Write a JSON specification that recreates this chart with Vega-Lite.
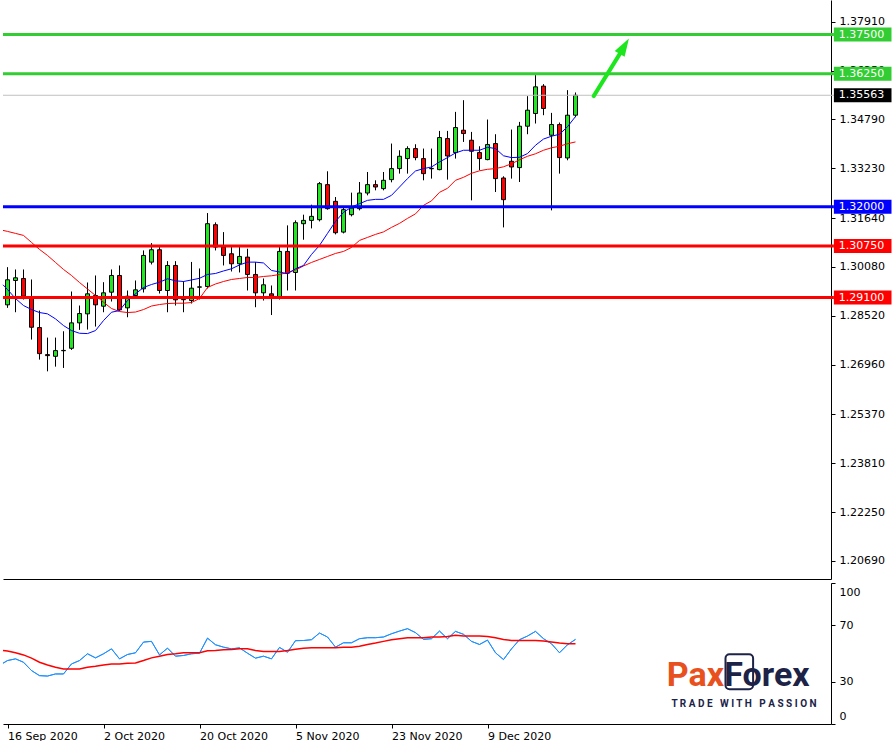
{
  "$schema": "https://vega.github.io/schema/vega-lite/v6.json",
  "background": "white",
  "padding": {"left": 0, "top": 0, "right": 0, "bottom": 0},
  "spacing": 3,
  "config": {
    "view": {"stroke": null},
    "scale": {"continuousPadding": 0},
    "axis": {"grid": false, "labelFont": "DejaVu Sans", "labelFontSize": 11, "labelColor": "#000", "domainColor": "#000", "tickColor": "#000", "domainWidth": 1, "tickWidth": 1, "title": null},
    "text": {"font": "DejaVu Sans"}
  },
  "datasets": {
    "candles": [
      {"i":0,"date":"2020-09-16","open":1.28868,"high":1.30072,"low":1.28772,"close":1.29668},
      {"i":1,"date":"2020-09-17","open":1.29646,"high":1.29998,"low":1.28632,"close":1.29732},
      {"i":2,"date":"2020-09-18","open":1.2971,"high":1.29998,"low":1.29038,"close":1.29144},
      {"i":3,"date":"2020-09-21","open":1.29112,"high":1.29678,"low":1.27758,"close":1.28152},
      {"i":4,"date":"2020-09-22","open":1.28142,"high":1.28686,"low":1.27118,"close":1.2731},
      {"i":5,"date":"2020-09-23","open":1.27278,"high":1.27822,"low":1.26744,"close":1.27246},
      {"i":6,"date":"2020-09-24","open":1.27224,"high":1.27822,"low":1.26894,"close":1.27406},
      {"i":7,"date":"2020-09-25","open":1.27402,"high":1.28024,"low":1.26852,"close":1.27412},
      {"i":8,"date":"2020-09-28","open":1.2748,"high":1.29294,"low":1.27428,"close":1.28292},
      {"i":9,"date":"2020-09-29","open":1.28292,"high":1.28846,"low":1.28068,"close":1.2859},
      {"i":10,"date":"2020-09-30","open":1.2858,"high":1.29582,"low":1.28078,"close":1.2922},
      {"i":11,"date":"2020-10-01","open":1.29166,"high":1.29806,"low":1.28174,"close":1.28868},
      {"i":12,"date":"2020-10-02","open":1.28824,"high":1.29592,"low":1.28632,"close":1.29252},
      {"i":13,"date":"2020-10-05","open":1.29272,"high":1.29998,"low":1.28974,"close":1.29806},
      {"i":14,"date":"2020-10-06","open":1.29806,"high":1.30126,"low":1.28664,"close":1.28708},
      {"i":15,"date":"2020-10-07","open":1.28772,"high":1.29326,"low":1.28472,"close":1.29144},
      {"i":16,"date":"2020-10-08","open":1.29166,"high":1.29646,"low":1.29102,"close":1.29348},
      {"i":17,"date":"2020-10-09","open":1.2938,"high":1.30606,"low":1.29262,"close":1.30446},
      {"i":18,"date":"2020-10-12","open":1.30232,"high":1.3084,"low":1.30158,"close":1.30628},
      {"i":19,"date":"2020-10-13","open":1.30628,"high":1.30712,"low":1.2923,"close":1.29326},
      {"i":20,"date":"2020-10-14","open":1.29326,"high":1.30264,"low":1.28632,"close":1.30126},
      {"i":21,"date":"2020-10-15","open":1.30126,"high":1.30264,"low":1.28846,"close":1.29028},
      {"i":22,"date":"2020-10-16","open":1.29042,"high":1.29624,"low":1.28632,"close":1.29032},
      {"i":23,"date":"2020-10-19","open":1.29006,"high":1.30238,"low":1.2891,"close":1.294},
      {"i":24,"date":"2020-10-20","open":1.29432,"high":1.3003,"low":1.29038,"close":1.29442},
      {"i":25,"date":"2020-10-21","open":1.29454,"high":1.318,"low":1.2939,"close":1.3146},
      {"i":26,"date":"2020-10-22","open":1.31428,"high":1.31502,"low":1.30606,"close":1.30712},
      {"i":27,"date":"2020-10-23","open":1.30712,"high":1.31192,"low":1.30126,"close":1.30446},
      {"i":28,"date":"2020-10-26","open":1.305,"high":1.30712,"low":1.29934,"close":1.3018},
      {"i":29,"date":"2020-10-27","open":1.3018,"high":1.30712,"low":1.29902,"close":1.30414},
      {"i":30,"date":"2020-10-28","open":1.30392,"high":1.3066,"low":1.29326,"close":1.29838},
      {"i":31,"date":"2020-10-29","open":1.29838,"high":1.30232,"low":1.28792,"close":1.29252},
      {"i":32,"date":"2020-10-30","open":1.29252,"high":1.2971,"low":1.29006,"close":1.29508},
      {"i":33,"date":"2020-11-02","open":1.2922,"high":1.29486,"low":1.28542,"close":1.29144},
      {"i":34,"date":"2020-11-03","open":1.29112,"high":1.30712,"low":1.29038,"close":1.30574},
      {"i":35,"date":"2020-11-04","open":1.30574,"high":1.31406,"low":1.29326,"close":1.2988},
      {"i":36,"date":"2020-11-05","open":1.29902,"high":1.31566,"low":1.29326,"close":1.31492},
      {"i":37,"date":"2020-11-06","open":1.3146,"high":1.31748,"low":1.30948,"close":1.31566},
      {"i":38,"date":"2020-11-09","open":1.31566,"high":1.32068,"low":1.3131,"close":1.31694},
      {"i":39,"date":"2020-11-10","open":1.31588,"high":1.32792,"low":1.31534,"close":1.3274},
      {"i":40,"date":"2020-11-11","open":1.32708,"high":1.33134,"low":1.31908,"close":1.3194},
      {"i":41,"date":"2020-11-12","open":1.32174,"high":1.32312,"low":1.31118,"close":1.31172},
      {"i":42,"date":"2020-11-13","open":1.31192,"high":1.32014,"low":1.3115,"close":1.31908},
      {"i":43,"date":"2020-11-16","open":1.31748,"high":1.32452,"low":1.31694,"close":1.3196},
      {"i":44,"date":"2020-11-17","open":1.3194,"high":1.32792,"low":1.31886,"close":1.3244},
      {"i":45,"date":"2020-11-18","open":1.3244,"high":1.33112,"low":1.32366,"close":1.32708},
      {"i":46,"date":"2020-11-19","open":1.32708,"high":1.32846,"low":1.32526,"close":1.32632},
      {"i":47,"date":"2020-11-20","open":1.3258,"high":1.33112,"low":1.32526,"close":1.32846},
      {"i":48,"date":"2020-11-23","open":1.32868,"high":1.3402,"low":1.32782,"close":1.3322},
      {"i":49,"date":"2020-11-24","open":1.3322,"high":1.33806,"low":1.3306,"close":1.33614},
      {"i":50,"date":"2020-11-25","open":1.3354,"high":1.33934,"low":1.3306,"close":1.3386},
      {"i":51,"date":"2020-11-26","open":1.3386,"high":1.33998,"low":1.33486,"close":1.33572},
      {"i":52,"date":"2020-11-27","open":1.3354,"high":1.3386,"low":1.32846,"close":1.3306},
      {"i":53,"date":"2020-11-30","open":1.33226,"high":1.3386,"low":1.329,"close":1.33216},
      {"i":54,"date":"2020-12-01","open":1.33188,"high":1.34424,"low":1.33166,"close":1.34212},
      {"i":55,"date":"2020-12-02","open":1.3418,"high":1.34424,"low":1.32868,"close":1.33624},
      {"i":56,"date":"2020-12-03","open":1.33732,"high":1.35032,"low":1.3354,"close":1.34532},
      {"i":57,"date":"2020-12-04","open":1.34446,"high":1.35406,"low":1.34072,"close":1.3434},
      {"i":58,"date":"2020-12-07","open":1.34126,"high":1.34392,"low":1.32206,"close":1.33774},
      {"i":59,"date":"2020-12-08","open":1.33732,"high":1.33934,"low":1.33166,"close":1.3354},
      {"i":60,"date":"2020-12-09","open":1.33508,"high":1.34788,"low":1.33486,"close":1.33988},
      {"i":61,"date":"2020-12-10","open":1.3402,"high":1.34318,"low":1.32472,"close":1.329},
      {"i":62,"date":"2020-12-11","open":1.3292,"high":1.32974,"low":1.31342,"close":1.32228},
      {"i":63,"date":"2020-12-14","open":1.33454,"high":1.34468,"low":1.329,"close":1.33272},
      {"i":64,"date":"2020-12-15","open":1.33252,"high":1.34712,"low":1.32792,"close":1.34574},
      {"i":65,"date":"2020-12-16","open":1.34574,"high":1.35534,"low":1.34318,"close":1.35086},
      {"i":66,"date":"2020-12-17","open":1.3498,"high":1.36206,"low":1.3466,"close":1.35832},
      {"i":67,"date":"2020-12-18","open":1.35854,"high":1.35918,"low":1.34926,"close":1.3514},
      {"i":68,"date":"2020-12-21","open":1.34286,"high":1.35,"low":1.31886,"close":1.34628},
      {"i":69,"date":"2020-12-22","open":1.34628,"high":1.34692,"low":1.3306,"close":1.33572},
      {"i":70,"date":"2020-12-23","open":1.3356,"high":1.35726,"low":1.33486,"close":1.34926},
      {"i":71,"date":"2020-12-24","open":1.34926,"high":1.35652,"low":1.34862,"close":1.35563}
    ],
    "ma": [
      {"i":-0.5625,"fast":1.29508,"slow":1.31246},
      {"i":0,"fast":1.29358,"slow":1.31214},
      {"i":1,"fast":1.2907,"slow":1.3115},
      {"i":2,"fast":1.28846,"slow":1.31086},
      {"i":3,"fast":1.28718,"slow":1.30862},
      {"i":4,"fast":1.28622,"slow":1.30638},
      {"i":5,"fast":1.2858,"slow":1.30446},
      {"i":6,"fast":1.2842,"slow":1.30222},
      {"i":7,"fast":1.28206,"slow":1.29998},
      {"i":8,"fast":1.28046,"slow":1.29806},
      {"i":9,"fast":1.2796,"slow":1.29582},
      {"i":10,"fast":1.2795,"slow":1.29374},
      {"i":11,"fast":1.28046,"slow":1.29166},
      {"i":12,"fast":1.28366,"slow":1.28952},
      {"i":13,"fast":1.28632,"slow":1.2875},
      {"i":14,"fast":1.28686,"slow":1.28654},
      {"i":15,"fast":1.29006,"slow":1.28622},
      {"i":16,"fast":1.2922,"slow":1.28638},
      {"i":17,"fast":1.29422,"slow":1.28718},
      {"i":18,"fast":1.29518,"slow":1.2883},
      {"i":19,"fast":1.29592,"slow":1.28878},
      {"i":20,"fast":1.297,"slow":1.2891},
      {"i":21,"fast":1.29636,"slow":1.2892},
      {"i":22,"fast":1.29614,"slow":1.2892},
      {"i":23,"fast":1.29662,"slow":1.28942},
      {"i":24,"fast":1.29716,"slow":1.2907},
      {"i":25,"fast":1.29838,"slow":1.29422},
      {"i":26,"fast":1.2987,"slow":1.29534},
      {"i":27,"fast":1.2995,"slow":1.29614},
      {"i":28,"fast":1.3002,"slow":1.29678},
      {"i":29,"fast":1.30142,"slow":1.2971},
      {"i":30,"fast":1.30232,"slow":1.29742},
      {"i":31,"fast":1.30232,"slow":1.29742},
      {"i":32,"fast":1.30206,"slow":1.29774},
      {"i":33,"fast":1.29966,"slow":1.29796},
      {"i":34,"fast":1.29918,"slow":1.29838},
      {"i":35,"fast":1.2986,"slow":1.29902},
      {"i":36,"fast":1.3002,"slow":1.29982},
      {"i":37,"fast":1.30126,"slow":1.3011},
      {"i":38,"fast":1.30478,"slow":1.30222},
      {"i":39,"fast":1.30766,"slow":1.30318},
      {"i":40,"fast":1.3115,"slow":1.30414},
      {"i":41,"fast":1.31534,"slow":1.3051},
      {"i":42,"fast":1.31822,"slow":1.30574},
      {"i":43,"fast":1.31992,"slow":1.30702},
      {"i":44,"fast":1.321,"slow":1.30926},
      {"i":45,"fast":1.32206,"slow":1.31022},
      {"i":46,"fast":1.32238,"slow":1.31118},
      {"i":47,"fast":1.32238,"slow":1.31198},
      {"i":48,"fast":1.32366,"slow":1.31342},
      {"i":49,"fast":1.32632,"slow":1.3147},
      {"i":50,"fast":1.329,"slow":1.3163},
      {"i":51,"fast":1.33144,"slow":1.31774},
      {"i":52,"fast":1.3322,"slow":1.32046},
      {"i":53,"fast":1.33272,"slow":1.3219},
      {"i":54,"fast":1.33432,"slow":1.32462},
      {"i":55,"fast":1.33572,"slow":1.3259},
      {"i":56,"fast":1.3372,"slow":1.32846},
      {"i":57,"fast":1.33806,"slow":1.32942},
      {"i":58,"fast":1.33806,"slow":1.3307},
      {"i":59,"fast":1.33806,"slow":1.3315},
      {"i":60,"fast":1.33902,"slow":1.33198},
      {"i":61,"fast":1.3386,"slow":1.3322},
      {"i":62,"fast":1.3363,"slow":1.33278},
      {"i":63,"fast":1.33572,"slow":1.33374},
      {"i":64,"fast":1.33582,"slow":1.33502},
      {"i":65,"fast":1.337,"slow":1.33614},
      {"i":66,"fast":1.33966,"slow":1.33694},
      {"i":67,"fast":1.34164,"slow":1.33806},
      {"i":68,"fast":1.34254,"slow":1.33886},
      {"i":69,"fast":1.34318,"slow":1.33934},
      {"i":70,"fast":1.34558,"slow":1.34014},
      {"i":71,"fast":1.34884,"slow":1.34072}
    ],
    "rsi": [
      {"i":-0.5625,"rsi":43.1,"signal":52.1},
      {"i":0,"rsi":45.0,"signal":51.7},
      {"i":1,"rsi":46.2,"signal":50.5},
      {"i":2,"rsi":43.8,"signal":49.0},
      {"i":3,"rsi":37.9,"signal":46.7},
      {"i":4,"rsi":34.3,"signal":43.8},
      {"i":5,"rsi":34.0,"signal":41.9},
      {"i":6,"rsi":35.5,"signal":40.2},
      {"i":7,"rsi":35.5,"signal":39.0},
      {"i":8,"rsi":42.6,"signal":39.0},
      {"i":9,"rsi":45.0,"signal":39.0},
      {"i":10,"rsi":49.8,"signal":40.2},
      {"i":11,"rsi":46.9,"signal":40.9},
      {"i":12,"rsi":49.8,"signal":41.9},
      {"i":13,"rsi":53.3,"signal":42.6},
      {"i":14,"rsi":46.2,"signal":42.6},
      {"i":15,"rsi":49.3,"signal":43.1},
      {"i":16,"rsi":50.5,"signal":43.3},
      {"i":17,"rsi":58.1,"signal":45.0},
      {"i":18,"rsi":58.6,"signal":46.9},
      {"i":19,"rsi":49.0,"signal":48.1},
      {"i":20,"rsi":53.8,"signal":49.3},
      {"i":21,"rsi":48.1,"signal":49.8},
      {"i":22,"rsi":48.6,"signal":50.5},
      {"i":23,"rsi":49.8,"signal":50.5},
      {"i":24,"rsi":50.2,"signal":50.5},
      {"i":25,"rsi":60.9,"signal":51.9},
      {"i":26,"rsi":56.2,"signal":52.1},
      {"i":27,"rsi":54.5,"signal":52.6},
      {"i":28,"rsi":53.3,"signal":52.9},
      {"i":29,"rsi":54.0,"signal":53.3},
      {"i":30,"rsi":50.2,"signal":53.3},
      {"i":31,"rsi":46.7,"signal":52.1},
      {"i":32,"rsi":48.1,"signal":51.4},
      {"i":33,"rsi":46.2,"signal":51.4},
      {"i":34,"rsi":54.3,"signal":51.4},
      {"i":35,"rsi":50.9,"signal":52.1},
      {"i":36,"rsi":59.1,"signal":53.0},
      {"i":37,"rsi":59.2,"signal":53.8},
      {"i":38,"rsi":59.8,"signal":54.0},
      {"i":39,"rsi":64.5,"signal":54.0},
      {"i":40,"rsi":61.7,"signal":54.0},
      {"i":41,"rsi":54.5,"signal":54.0},
      {"i":42,"rsi":57.6,"signal":54.5},
      {"i":43,"rsi":57.6,"signal":54.5},
      {"i":44,"rsi":60.5,"signal":55.2},
      {"i":45,"rsi":61.2,"signal":56.4},
      {"i":46,"rsi":61.2,"signal":57.4},
      {"i":47,"rsi":61.7,"signal":58.6},
      {"i":48,"rsi":64.0,"signal":59.8},
      {"i":49,"rsi":65.9,"signal":60.5},
      {"i":50,"rsi":67.6,"signal":61.2},
      {"i":51,"rsi":64.8,"signal":61.2},
      {"i":52,"rsi":60.0,"signal":61.2},
      {"i":53,"rsi":60.5,"signal":61.7},
      {"i":54,"rsi":65.9,"signal":61.7},
      {"i":55,"rsi":60.5,"signal":62.1},
      {"i":56,"rsi":65.7,"signal":62.9},
      {"i":57,"rsi":63.6,"signal":62.4},
      {"i":58,"rsi":58.6,"signal":62.4},
      {"i":59,"rsi":56.4,"signal":62.4},
      {"i":60,"rsi":59.5,"signal":62.1},
      {"i":61,"rsi":50.5,"signal":61.2},
      {"i":62,"rsi":45.7,"signal":60.0},
      {"i":63,"rsi":53.3,"signal":59.3},
      {"i":64,"rsi":59.8,"signal":59.3},
      {"i":65,"rsi":62.4,"signal":59.3},
      {"i":66,"rsi":65.7,"signal":59.3},
      {"i":67,"rsi":60.5,"signal":58.8},
      {"i":68,"rsi":56.9,"signal":58.1},
      {"i":69,"rsi":50.5,"signal":57.4},
      {"i":70,"rsi":56.2,"signal":56.9},
      {"i":71,"rsi":60.0,"signal":56.9}
    ],
    "levels": [
      {"price":1.375,"role":"target"},
      {"price":1.3625,"role":"target"},
      {"price":1.32,"role":"pivot"},
      {"price":1.3075,"role":"support"},
      {"price":1.291,"role":"support"}
    ],
    "bid": [{"price":1.35563}],
    "arrow": [{"i":73.27,"price":1.35534},{"i":76.75,"price":1.36974}],
    "arrowhead": [{"i":77.1,"price":1.37131}],
    "logo": [{"brand":"Pax","rest":"Forex","slogan":"T R A D E\u00a0\u00a0\u00a0W I T H\u00a0\u00a0\u00a0P A S S I O N"}]
  },
  "vconcat": [
    {
      "width": 828,
      "height": 579,
      "layer": [
        {
          "data": {"name": "candles"},
          "mark": {"type": "rule", "color": "#000", "strokeWidth": 1},
          "encoding": {
            "x": {"field": "i", "type": "quantitative", "scale": {"domain": [-0.5625, 102.9375], "nice": false, "zero": false, "padding": 0}, "axis": {"orient": "bottom", "labels": false, "ticks": false, "domain": true, "title": null}},
            "y": {"field": "low", "type": "quantitative", "scale": {"domain": [1.2011, 1.38606], "nice": false, "zero": false, "padding": 0}, "axis": {"orient": "right", "values": [1.3791, 1.3635, 1.3479, 1.3323, 1.3164, 1.3008, 1.2852, 1.2696, 1.2537, 1.2381, 1.2225, 1.2069], "format": ".5f", "tickSize": 4, "labelPadding": 4, "labelOverlap": false, "title": null}},
            "y2": {"field": "high"}
          }
        },
        {
          "data": {"name": "candles"},
          "mark": {"type": "bar", "width": 4, "stroke": "#000", "strokeWidth": 1, "orient": "vertical"},
          "encoding": {
            "x": {"field": "i", "type": "quantitative"},
            "y": {"field": "open", "type": "quantitative"},
            "y2": {"field": "close"},
            "color": {"condition": {"test": "datum.close >= datum.open", "value": "#22e622"}, "value": "#ff0000"}
          }
        },
        {
          "data": {"name": "ma"},
          "mark": {"type": "line", "color": "#ff0000", "strokeWidth": 1},
          "encoding": {"x": {"field": "i", "type": "quantitative"}, "y": {"field": "slow", "type": "quantitative"}}
        },
        {
          "data": {"name": "ma"},
          "mark": {"type": "line", "color": "#0000ff", "strokeWidth": 1},
          "encoding": {"x": {"field": "i", "type": "quantitative"}, "y": {"field": "fast", "type": "quantitative"}}
        },
        {
          "data": {"name": "bid"},
          "mark": {"type": "rule", "color": "#c0c0c0", "strokeWidth": 1},
          "encoding": {"x": {"datum": -0.5625}, "x2": {"datum": 103.3}, "y": {"field": "price", "type": "quantitative"}}
        },
        {
          "data": {"name": "levels"},
          "mark": {"type": "rule", "strokeWidth": 3},
          "encoding": {
            "x": {"datum": -0.5625}, "x2": {"datum": 103.3},
            "y": {"field": "price", "type": "quantitative"},
            "color": {"field": "role", "type": "nominal", "scale": {"domain": ["target", "pivot", "support"], "range": ["#32cd32", "#0000ff", "#ff0000"]}, "legend": null}
          }
        },
        {
          "data": {"name": "levels"},
          "mark": {"type": "bar", "orient": "horizontal", "height": 14},
          "encoding": {
            "x": {"datum": 103.3}, "x2": {"datum": 110.5},
            "y": {"field": "price", "type": "quantitative"},
            "color": {"field": "role", "type": "nominal", "legend": null}
          }
        },
        {
          "data": {"name": "bid"},
          "mark": {"type": "bar", "orient": "horizontal", "height": 14, "color": "#000"},
          "encoding": {"x": {"datum": 103.3}, "x2": {"datum": 110.5}, "y": {"field": "price", "type": "quantitative"}}
        },
        {
          "data": {"name": "levels"},
          "mark": {"type": "text", "align": "left", "baseline": "middle", "color": "#fff", "font": "DejaVu Sans", "fontSize": 11},
          "encoding": {"x": {"datum": 103.9}, "y": {"field": "price", "type": "quantitative"}, "text": {"field": "price", "type": "quantitative", "format": ".5f"}}
        },
        {
          "data": {"name": "bid"},
          "mark": {"type": "text", "align": "left", "baseline": "middle", "color": "#fff", "font": "DejaVu Sans", "fontSize": 11},
          "encoding": {"x": {"datum": 103.9}, "y": {"field": "price", "type": "quantitative"}, "text": {"field": "price", "type": "quantitative", "format": ".5f"}}
        },
        {
          "data": {"name": "arrow"},
          "mark": {"type": "line", "color": "#1ee61e", "strokeWidth": 4, "strokeCap": "round"},
          "encoding": {"x": {"field": "i", "type": "quantitative"}, "y": {"field": "price", "type": "quantitative"}}
        },
        {
          "data": {"name": "arrowhead"},
          "mark": {"type": "point", "shape": "M0,-1L-0.64,1L0.64,1Z", "size": 324, "angle": 31, "filled": true, "color": "#1ee61e", "opacity": 1},
          "encoding": {"x": {"field": "i", "type": "quantitative"}, "y": {"field": "price", "type": "quantitative"}}
        }
      ]
    },
    {
      "width": 828,
      "height": 141,
      "layer": [
        {
          "data": {"name": "rsi"},
          "mark": {"type": "line", "color": "#1e90ff", "strokeWidth": 1},
          "encoding": {
            "x": {"field": "i", "type": "quantitative", "scale": {"domain": [-0.5625, 102.9375], "nice": false, "zero": false, "padding": 0}, "axis": {"orient": "bottom", "values": [0, 12, 24, 36, 48, 60], "labelExpr": "['16 Sep 2020','2 Oct 2020','20 Oct 2020','5 Nov 2020','23 Nov 2020','9 Dec 2020'][round(datum.value/12)]", "labelAlign": "left", "labelPadding": 2, "labelOffset": 0, "tickSize": 4, "labelFlush": false, "labelOverlap": false, "labelBound": false, "title": null}},
            "y": {"field": "rsi", "type": "quantitative", "scale": {"domain": [0, 100], "nice": false, "zero": false, "padding": 0}, "axis": {"orient": "right", "values": [100, 70, 30, 0], "tickSize": 4, "labelPadding": 4, "labelFlush": true, "labelFlushOffset": -3, "labelOverlap": false, "title": null}}
          }
        },
        {
          "mark": {"type": "rule", "color": "#c0c0c0", "strokeDash": [3, 3], "strokeWidth": 1},
          "encoding": {"y": {"datum": 70}}
        },
        {
          "mark": {"type": "rule", "color": "#c0c0c0", "strokeDash": [3, 3], "strokeWidth": 1},
          "encoding": {"y": {"datum": 30}}
        },
        {
          "mark": {"type": "rule", "color": "#000", "strokeWidth": 1},
          "encoding": {"y": {"datum": 100}}
        },
        {
          "data": {"name": "rsi"},
          "mark": {"type": "line", "color": "#1e90ff", "strokeWidth": 1},
          "encoding": {"x": {"field": "i", "type": "quantitative"}, "y": {"field": "rsi", "type": "quantitative"}}
        },
        {
          "data": {"name": "rsi"},
          "mark": {"type": "line", "color": "#ff0000", "strokeWidth": 1.5},
          "encoding": {"x": {"field": "i", "type": "quantitative"}, "y": {"field": "signal", "type": "quantitative"}}
        },
        {
          "data": {"name": "logo"},
          "mark": {"type": "rect", "fill": null, "filled": false, "stroke": "#1c2347", "strokeWidth": 2, "cornerRadius": 4},
          "encoding": {"x": {"datum": 89.75}, "x2": {"datum": 93.2}, "y": {"datum": 49.5}, "y2": {"datum": 24.6}}
        },
        {
          "data": {"name": "logo"},
          "mark": {"type": "text", "align": "right", "baseline": "alphabetic", "font": "Roboto", "fontWeight": "bold", "fontSize": 34, "color": "#e8501e"},
          "encoding": {"x": {"datum": 89.56}, "y": {"datum": 27.1}, "text": {"field": "brand", "type": "nominal"}}
        },
        {
          "data": {"name": "logo"},
          "mark": {"type": "text", "align": "left", "baseline": "alphabetic", "font": "Roboto", "fontWeight": "bold", "fontSize": 34, "color": "#1c2347"},
          "encoding": {"x": {"datum": 89.6}, "y": {"datum": 27.1}, "text": {"field": "rest", "type": "nominal"}}
        },
        {
          "data": {"name": "logo"},
          "mark": {"type": "text", "align": "center", "baseline": "alphabetic", "font": "Roboto", "fontWeight": "bold", "fontSize": 10, "color": "#1c2347"},
          "encoding": {"x": {"datum": 92.06}, "y": {"datum": 12.1}, "text": {"field": "slogan", "type": "nominal"}}
        }
      ]
    }
  ]
}
